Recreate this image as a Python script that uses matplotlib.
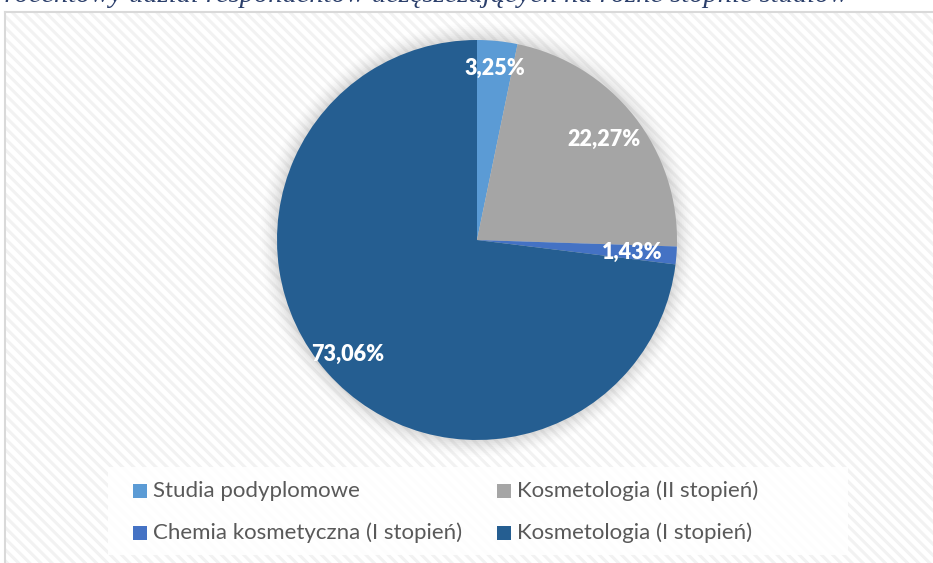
import matplotlib.pyplot as plt
from matplotlib.patches import Rectangle, Circle
import numpy as np

W, H = 933, 563

categories = [
    "Studia podyplomowe",
    "Kosmetologia (II stopień)",
    "Chemia kosmetyczna (I stopień)",
    "Kosmetologia (I stopień)",
]
shares = [3.25, 22.27, 1.43, 73.06]
share_labels = ["3,25%", "22,27%", "1,43%", "73,06%"]
colors = ["#5B9BD5", "#A5A5A5", "#4472C4", "#255E91"]
label_dist = [0.86, 0.81, 0.78, 0.86]

caption = "Procentowy udział respondentów uczęszczających na różne stopnie studiów"

plt.rcParams["hatch.linewidth"] = 2.2

fig = plt.figure(figsize=(W / 100, H / 100), dpi=100)


def px(x, y):
    return x / W, 1 - y / H


# chart area with faint diagonal stripes
x0, y0 = px(5, 12)
bg = Rectangle((x0, -0.05), 1.1, y0 + 0.05, transform=fig.transFigure,
               facecolor="white", edgecolor="#f2f2f2", linewidth=0,
               hatch="\\\\\\", zorder=-5)
fig.patches.append(bg)
fig.add_artist(plt.Line2D([x0, x0], [-0.05, y0], transform=fig.transFigure,
                          color="#d9d9d9", lw=1.5, zorder=-4))
fig.add_artist(plt.Line2D([x0, 1.1], [y0, y0], transform=fig.transFigure,
                          color="#d9d9d9", lw=1.5, zorder=-4))

# caption of the document, cut by the top edge
cx, cy = px(848, 1.7)
fig.text(cx, cy, caption, ha="right", va="baseline", fontsize=20.5,
         family="Liberation Serif", style="italic", color="#2B3F6B")

# pie
cxp, cyp = 477, 240
half = 220
ax = fig.add_axes([(cxp - half) / W, (H - cyp - half) / H, 2 * half / W, 2 * half / H])
ax.set_zorder(2)
ax.patch.set_visible(False)

for r, a in zip(np.linspace(1.085, 1.0, 10), np.linspace(0.012, 0.05, 10)):
    ax.add_patch(Circle((0, 0), r, facecolor="#808080", alpha=a, lw=0, zorder=0))

wedges, _ = ax.pie(shares, colors=colors, startangle=90, counterclock=False,
                   radius=1.0, wedgeprops=dict(linewidth=0))

for w, txt, d in zip(wedges, share_labels, label_dist):
    ang = np.deg2rad((w.theta1 + w.theta2) / 2)
    ax.text(d * np.cos(ang), d * np.sin(ang), txt, ha="center", va="center",
            color="white", fontsize=15.5, fontweight="heavy", family="Lato")

ax.set_xlim(-1.1, 1.1)
ax.set_ylim(-1.1, 1.1)
ax.set_aspect("equal")
ax.axis("off")

# legend box
lx0, ly1 = px(108, 467)
lx1, ly0 = px(848, 555)
fig.patches.append(Rectangle((lx0, ly0), lx1 - lx0, ly1 - ly0, transform=fig.transFigure,
                             facecolor="white", edgecolor="none", alpha=0.85, zorder=1))

col_x = [133, 497]
row_y = [491, 533]
for i, (name, c) in enumerate(zip(categories, colors)):
    mx = col_x[i % 2]
    my = row_y[i // 2]
    sx, sy = px(mx, my + 7)
    fig.patches.append(Rectangle((sx, sy), 14 / W, 14 / H, transform=fig.transFigure,
                                 facecolor=c, edgecolor="none", zorder=2))
    tx, ty = px(mx + 20, my)
    fig.text(tx, ty, name, ha="left", va="center", fontsize=16,
             family="Lato", color="#595959", zorder=3)

fig.savefig("out.png", dpi=100)
